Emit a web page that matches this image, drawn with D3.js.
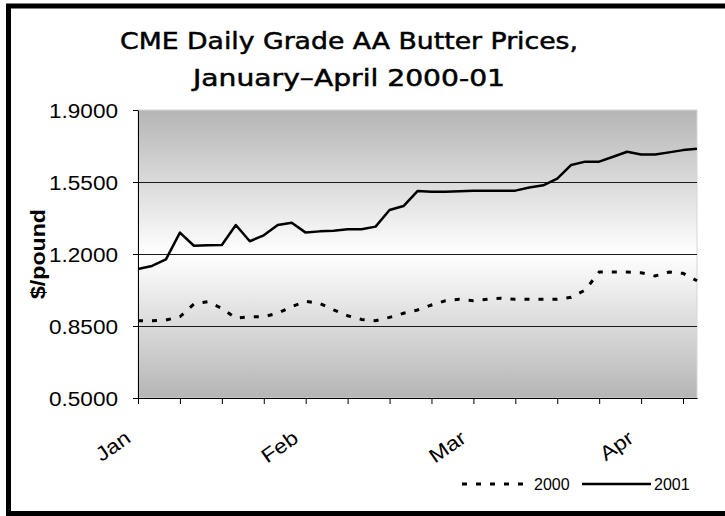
<html>
<script src="https://cdn.jsdelivr.net/npm/d3@7"></script>
<style>
  body { margin: 0; background: #fff; }
  .tick text { font-family: "Liberation Sans", Arial, sans-serif; fill: #000; }
  .grid line { stroke: #1a1a1a; stroke-width: 1px; }
</style>
<svg width=725 height=516></svg>
<script>
  // daily CME grade AA butter prices ($/pound), one value per trading day
  let prices2000 = [0.876, 0.876, 0.879, 0.895, 0.957, 0.968, 0.936, 0.888, 0.895, 0.895,
                    0.912, 0.944, 0.970, 0.960, 0.928, 0.900, 0.882, 0.876, 0.892, 0.912,
                    0.928, 0.952, 0.973, 0.980, 0.973, 0.980, 0.985, 0.980, 0.980, 0.980,
                    0.980, 0.990, 1.025, 1.112, 1.112, 1.112, 1.109, 1.093, 1.112, 1.106,
                    1.070];
  let prices2001 = [1.127, 1.142, 1.174, 1.304, 1.240, 1.242, 1.244, 1.341, 1.262, 1.291,
                    1.341, 1.352, 1.304, 1.310, 1.313, 1.320, 1.320, 1.333, 1.414, 1.433,
                    1.506, 1.503, 1.503, 1.505, 1.508, 1.508, 1.508, 1.508, 1.523, 1.534,
                    1.566, 1.633, 1.649, 1.649, 1.673, 1.697, 1.684, 1.684, 1.694, 1.705,
                    1.712];
  let days = d3.range(prices2001.length);            // category index of each trading day
  let tickDays = [0, 3, 6, 9, 12, 15, 18, 21, 24, 27, 30, 33, 36, 39];
  let monthDays = [0, 12, 24, 36];
  let monthLabels = ['Jan', 'Feb', 'Mar', 'Apr'];
  let yTicks = [0.5, 0.85, 1.2, 1.55, 1.9];
  let seriesNames = ['2000', '2001'];

  let svg = d3.select('svg'),
      plotL = 138, plotR = 697, plotT = 110, plotB = 398;

  // outer frame (right side is cut off in the original)
  svg.append('path')
      .attr('d', 'M725,6H8.5V513.5H725')
      .attr('fill', 'none')
      .attr('stroke', '#000')
      .attr('stroke-width', 5);

  let x = d3.scalePoint().domain(days).range([plotL, plotR]);
  let y = d3.scaleLinear().domain([0.5, 1.9]).range([plotB, plotT]);

  // plot area gradient
  let grad = svg.append('defs').append('linearGradient')
      .attr('id', 'bg').attr('x1', 0).attr('y1', 0).attr('x2', 0).attr('y2', 1);
  grad.append('stop').attr('offset', '0%').attr('stop-color', '#b5b5b5');
  grad.append('stop').attr('offset', '50%').attr('stop-color', '#ffffff');
  grad.append('stop').attr('offset', '100%').attr('stop-color', '#b5b5b5');

  svg.append('rect')
      .attr('x', plotL).attr('y', plotT)
      .attr('width', plotR - plotL).attr('height', plotB - plotT)
      .attr('fill', 'url(#bg)')
      .attr('stroke', '#d6d6d6');

  svg.append('g').attr('class', 'grid')
    .selectAll('line')
    .data(yTicks.slice(1, -1))
    .enter().append('line')
      .attr('x1', plotL).attr('x2', plotR)
      .attr('y1', d => Math.round(y(d)) + 0.5)
      .attr('y2', d => Math.round(y(d)) + 0.5);

  // axes
  let yAxis = svg.append('g')
      .attr('transform', 'translate(' + plotL + ',0)')
      .call(d3.axisLeft(y).tickValues(yTicks).tickFormat(d3.format('.4f'))
            .tickSize(5).tickSizeOuter(0).tickPadding(15));
  yAxis.selectAll('text')
      .attr('font-size', 20)
      .attr('dy', '0.36em')
      .attr('textLength', 69)
      .attr('lengthAdjust', 'spacingAndGlyphs');

  svg.append('g')
      .attr('transform', 'translate(0,' + plotB + ')')
      .call(d3.axisBottom(x).tickValues(tickDays).tickFormat('').tickSize(6).tickSizeOuter(0));

  svg.selectAll('.domain, .tick line').attr('stroke', '#000');

  svg.append('g')
    .selectAll('text')
    .data(monthDays)
    .enter().append('text')
      .attr('transform', d => 'translate(' + (x(d) - 6) + ',441) rotate(-35) scale(1.15,1)')
      .attr('text-anchor', 'end')
      .attr('font-family', '"Liberation Sans", Arial, sans-serif')
      .attr('font-size', 20)
      .text((d, i) => monthLabels[i]);

  // lines
  let line = d3.line().x((d, i) => x(days[i])).y(d => y(d));

  svg.append('path')
      .datum(prices2000)
      .attr('d', line)
      .attr('fill', 'none')
      .attr('stroke', '#000')
      .attr('stroke-width', 3)
      .attr('stroke-dasharray', '5,9');

  svg.append('path')
      .datum(prices2001)
      .attr('d', line)
      .attr('fill', 'none')
      .attr('stroke', '#000')
      .attr('stroke-width', 2.5)
      .attr('stroke-linejoin', 'round');

  // axis title
  svg.append('text')
      .attr('transform', 'translate(45,254) rotate(-90)')
      .attr('text-anchor', 'middle')
      .attr('font-family', '"Liberation Sans", Arial, sans-serif')
      .attr('font-weight', 'bold')
      .attr('font-size', 20)
      .attr('textLength', 90)
      .attr('lengthAdjust', 'spacingAndGlyphs')
      .text('$/pound');

  // chart title
  let title = svg.append('g')
      .attr('font-family', '"DejaVu Sans", Verdana, sans-serif')
      .attr('font-size', 23)
      .attr('stroke', '#000')
      .attr('stroke-width', 0.5)
      .attr('text-anchor', 'middle');
  title.append('text').attr('x', 349).attr('y', 49)
      .attr('textLength', 458).attr('lengthAdjust', 'spacingAndGlyphs')
      .text('CME Daily Grade AA Butter Prices,');
  title.append('text').attr('x', 349).attr('y', 86)
      .attr('textLength', 312).attr('lengthAdjust', 'spacingAndGlyphs')
      .text('January\u2013April  2000-01');

  // legend
  let legend = svg.append('g')
      .attr('font-family', '"Liberation Sans", Arial, sans-serif')
      .attr('font-size', 16);
  let legendX = [462, 582];
  legend.selectAll('line')
    .data(seriesNames)
    .enter().append('line')
      .attr('x1', (d, i) => legendX[i]).attr('x2', (d, i) => legendX[i] + 69)
      .attr('y1', 484).attr('y2', 484)
      .attr('stroke', '#000')
      .attr('stroke-width', (d, i) => i ? 2.5 : 3)
      .attr('stroke-dasharray', (d, i) => i ? null : '5,9');
  legend.selectAll('text')
    .data(seriesNames)
    .enter().append('text')
      .attr('x', (d, i) => legendX[i] + 72)
      .attr('y', 490)
      .text(d => d);
</script>
</html>
